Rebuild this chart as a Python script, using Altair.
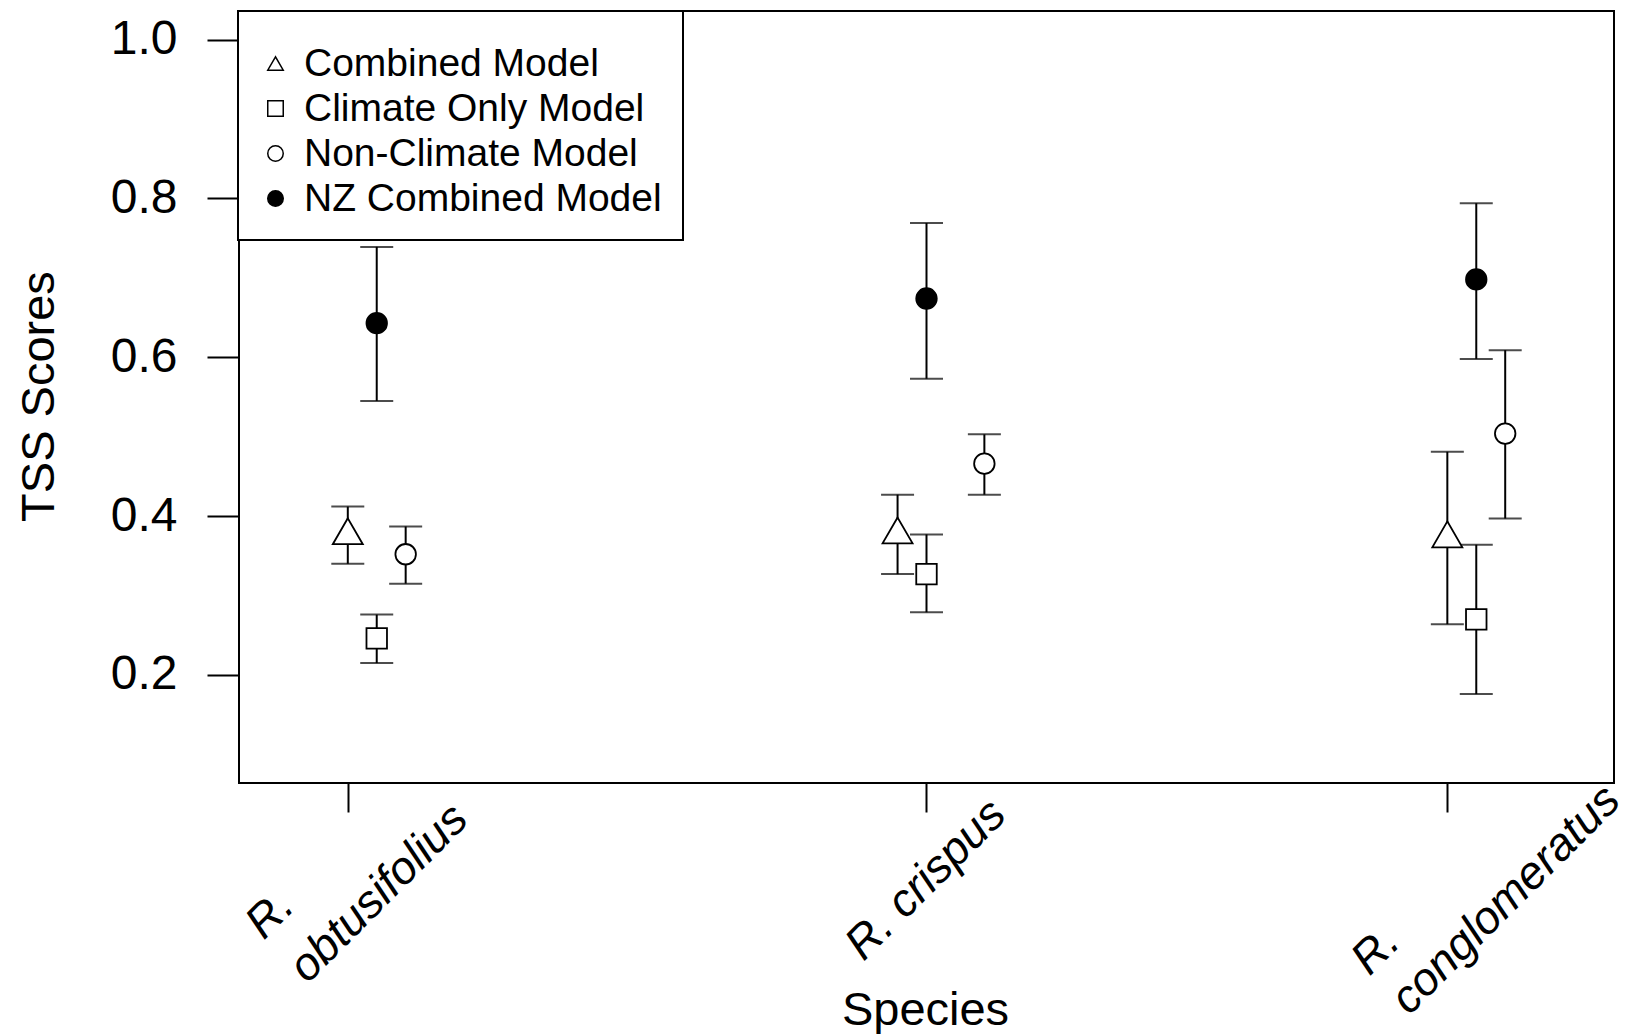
import altair as alt
import pandas as pd

# ---------------- data ----------------
species = ["R.\nobtusifolius", "R. crispus", "R.\nconglomeratus"]
species_pos = [1.0, 2.0, 2.9]

models = ["Combined Model", "Climate Only Model", "Non-Climate Model", "NZ Combined Model"]

combined_x = [1.0, 1.95, 2.9]
combined_mean = [0.381, 0.382, 0.377]
combined_lo = [0.340, 0.327, 0.264]
combined_hi = [0.412, 0.427, 0.481]

climate_x = [1.05, 2.0, 2.95]
climate_mean = [0.246, 0.327, 0.270]
climate_lo = [0.215, 0.279, 0.176]
climate_hi = [0.276, 0.377, 0.364]

nonclimate_x = [1.1, 2.1, 3.0]
nonclimate_mean = [0.352, 0.466, 0.504]
nonclimate_lo = [0.315, 0.427, 0.397]
nonclimate_hi = [0.387, 0.503, 0.609]

nz_x = [1.05, 2.0, 2.95]
nz_mean = [0.643, 0.674, 0.698]
nz_lo = [0.545, 0.573, 0.598]
nz_hi = [0.739, 0.769, 0.794]

y_ticks = [0.2, 0.4, 0.6, 0.8, 1.0]

# ---------------- tables ----------------
rows = []
for m, xs, means, los, his in [
    (models[0], combined_x, combined_mean, combined_lo, combined_hi),
    (models[1], climate_x, climate_mean, climate_lo, climate_hi),
    (models[2], nonclimate_x, nonclimate_mean, nonclimate_lo, nonclimate_hi),
    (models[3], nz_x, nz_mean, nz_lo, nz_hi),
]:
    for s, x, v, lo, hi in zip(species, xs, means, los, his):
        rows.append({"model": m, "species": s, "x": x, "tss": v, "lo": lo, "hi": hi})
df = pd.DataFrame(rows)
label_df = pd.DataFrame({"label": species, "pos": species_pos})

FONT = "Liberation Sans"

xscale = alt.Scale(domain=[0.812, 3.188], nice=False, zero=False)
yscale = alt.Scale(domain=[0.064, 1.036], nice=False, zero=False)

xaxis = alt.Axis(
    values=species_pos, labels=False, tickSize=29, tickWidth=2, tickColor="black",
    domain=False, grid=False, title="Species", titleFont=FONT, titleFontSize=47,
    titleFontWeight="normal", titleColor="black", titleX=686, titleY=241,
    titleBaseline="alphabetic", titleAlign="center",
)
yaxis = alt.Axis(
    values=y_ticks, format=".1f", tickSize=32, tickWidth=2, tickColor="black",
    domain=False, grid=False, labelFont=FONT, labelFontSize=48, labelPadding=30,
    labelColor="black", labelFlush=False, labelOverlap=False,
    title="TSS Scores", titleFont=FONT, titleFontSize=47, titleFontWeight="normal",
    titleColor="black", titleX=-186, titleY=385, titleAngle=270,
    titleBaseline="alphabetic", titleAlign="center",
)

legend = alt.Legend(
    title=" ", titleFontSize=10, titlePadding=2,
    orient="none", legendX=-1, legendY=0,
    symbolStrokeWidth=1.5, symbolSize=240,
)

bars = alt.Chart(df).mark_errorbar(ticks=True, size=33, thickness=2, color="black").encode(
    x=alt.X("x:Q", scale=xscale, axis=xaxis),
    y=alt.Y("lo:Q", scale=yscale, axis=yaxis),
    y2="hi:Q",
)

points = alt.Chart(df).mark_point(
    filled=True, strokeWidth=1.8, opacity=1, size=420
).encode(
    x=alt.X("x:Q", scale=xscale, axis=xaxis),
    y=alt.Y("tss:Q", scale=yscale, axis=yaxis),
    shape=alt.Shape(
        "model:N",
        scale=alt.Scale(domain=models, range=["triangle-up", "square", "circle", "circle"]),
        legend=legend,
    ),
    fill=alt.Fill(
        "model:N",
        scale=alt.Scale(domain=models, range=["white", "white", "white", "black"]),
        legend=legend,
    ),
    stroke=alt.Stroke(
        "model:N",
        scale=alt.Scale(domain=models, range=["black", "black", "black", "black"]),
        legend=legend,
    ),
)

# the triangles of the combined model are drawn larger, as in the original
triangles = alt.Chart(df).transform_filter(alt.datum.model == models[0]).mark_point(
    shape="triangle-up", filled=True, fill="white", stroke="black",
    strokeWidth=1.8, opacity=1, size=900,
).encode(
    x=alt.X("x:Q", scale=xscale, axis=xaxis),
    y=alt.Y("tss:Q", scale=yscale, axis=yaxis),
)

label_styles = [(-171, 52, 62), (-171, 82, 56), (-192, 82, 56)]
label_layers = []
for lab, (ddx, ddy, lh) in zip(species, label_styles):
    label_layers.append(
        alt.Chart(label_df)
        .transform_filter(alt.datum.label == lab)
        .mark_text(
            angle=315, align="left", baseline="alphabetic", dx=ddx, dy=ddy,
            lineBreak="\n", lineHeight=lh, font=FONT, fontSize=46,
            fontStyle="italic", color="black",
        )
        .encode(
            x=alt.X("pos:Q", scale=xscale, axis=xaxis),
            y=alt.value(772),
            text="label:N",
        )
    )

chart = (
    alt.layer(bars, points, triangles, *label_layers)
    .properties(
        width=1375,
        height=772,
        autosize=alt.AutoSizeParams(type="none"),
        padding={"left": 239, "top": 11, "right": 16, "bottom": 251},
        background="white",
    )
    .configure_view(stroke="black", strokeWidth=2)
    .configure_legend(
        strokeColor="black", strokeWidth=2,
        fillColor="white", padding=21, labelFont=FONT, labelFontSize=39,
        labelColor="black", rowPadding=5, labelOffset=9, symbolOffset=-3,
        labelLimit=0,
    )
)

chart.save("out.html", embed_options={"renderer": "svg", "actions": False})
